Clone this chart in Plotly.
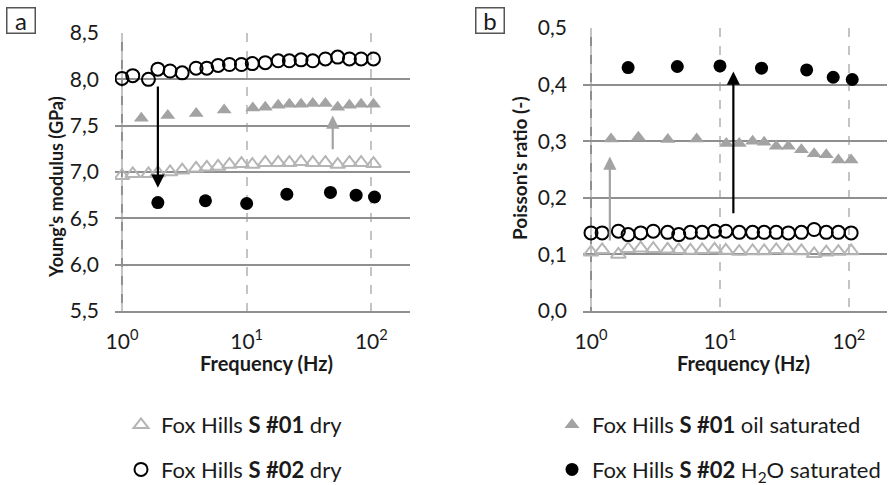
import math
import plotly.graph_objects as go

# ---------------- data ----------------
FREQ_DRY = [1.0, 1.22, 1.63, 1.94, 2.43, 3.04, 3.93, 4.79, 5.9, 7.28, 9.08, 11.1, 14.1,
            17.9, 22.0, 27.3, 33.9, 42.8, 53.7, 66.7, 82.8, 104]
FREQ_OIL = [1.43, 2.33, 3.94, 6.6, 11.2, 14.1, 17.9, 22.0, 27.3, 33.9, 42.8, 53.7, 66.7, 82.8, 104]
FREQ_H2O = [1.94, 4.67, 10.0, 21.0, 47.0, 75.5, 106]

E_S01_DRY = [6.96, 6.98, 6.98, 6.99, 7.00, 7.02, 7.04, 7.05, 7.06, 7.08, 7.09, 7.08, 7.10,
             7.10, 7.10, 7.11, 7.10, 7.10, 7.08, 7.10, 7.10, 7.09]
E_S02_DRY = [8.01, 8.04, 8.00, 8.11, 8.09, 8.07, 8.12, 8.12, 8.15, 8.16, 8.16, 8.17, 8.18,
             8.20, 8.20, 8.21, 8.20, 8.22, 8.24, 8.22, 8.22, 8.22]
E_S01_OIL = [7.58, 7.61, 7.63, 7.67, 7.69, 7.70, 7.72, 7.73, 7.73, 7.74, 7.74, 7.70, 7.72, 7.73, 7.73]
E_S02_H2O = [6.67, 6.69, 6.66, 6.76, 6.78, 6.75, 6.73]

NU_S01_DRY = [0.104, 0.108, 0.100, 0.110, 0.111, 0.110, 0.109, 0.108, 0.107, 0.108, 0.109, 0.107,
              0.105, 0.106, 0.106, 0.108, 0.107, 0.106, 0.101, 0.104, 0.105, 0.106]
NU_S02_DRY = [0.138, 0.138, 0.141, 0.135, 0.138, 0.141, 0.139, 0.135, 0.139, 0.139, 0.141, 0.141,
              0.139, 0.139, 0.139, 0.139, 0.138, 0.139, 0.144, 0.139, 0.139, 0.138]
NU_S01_OIL = [0.304, 0.307, 0.303, 0.304, 0.296, 0.296, 0.300, 0.298, 0.291, 0.291, 0.285, 0.278,
              0.276, 0.267, 0.267]
NU_S02_H2O = [0.430, 0.432, 0.433, 0.429, 0.426, 0.413, 0.409]

X_TICKS = [1, 10, 100]
X_TICKTEXT = ["10<sup>0</sup>", "10<sup>1</sup>", "10<sup>2</sup>"]
E_TICKS = [5.5, 6.0, 6.5, 7.0, 7.5, 8.0, 8.5]
NU_TICKS = [0.0, 0.1, 0.2, 0.3, 0.4, 0.5]

NAMES = ["Fox Hills <b>S #01</b> dry", "Fox Hills <b>S #02</b> dry",
         "Fox Hills <b>S #01</b> oil saturated", "Fox Hills <b>S #02</b> H<sub>2</sub>O saturated"]

FONT = "Lato"
TXT = "#1a1a1a"
GRID = "#8f8f8f"
LIGHT_GRAY = "#b5b5b5"
MID_GRAY = "#a3a3a3"

fig = go.Figure()

styles = [
    dict(symbol="triangle-up-open", size=13, color=LIGHT_GRAY, line=dict(width=2, color=LIGHT_GRAY)),
    dict(symbol="circle-open", size=13, color="black", line=dict(width=2, color="black")),
    dict(symbol="triangle-up", size=13, color=MID_GRAY, line=dict(width=0)),
    dict(symbol="circle", size=13, color="black", line=dict(width=0)),
]
legends = ["legend", "legend", "legend2", "legend2"]

left_sets = [(FREQ_DRY, E_S01_DRY), (FREQ_DRY, E_S02_DRY), (FREQ_OIL, E_S01_OIL), (FREQ_H2O, E_S02_H2O)]
right_sets = [(FREQ_DRY, NU_S01_DRY), (FREQ_DRY, NU_S02_DRY), (FREQ_OIL, NU_S01_OIL), (FREQ_H2O, NU_S02_H2O)]

for i, (fx, fy) in enumerate(left_sets):
    fig.add_trace(go.Scatter(x=fx, y=fy, mode="markers", marker=styles[i], name=NAMES[i],
                             xaxis="x", yaxis="y", legend=legends[i], legendgroup=f"g{i}",
                             showlegend=True))
for i, (fx, fy) in enumerate(right_sets):
    fig.add_trace(go.Scatter(x=fx, y=fy, mode="markers", marker=styles[i], name=NAMES[i],
                             xaxis="x2", yaxis="y2", legend=legends[i], legendgroup=f"g{i}",
                             showlegend=False))

xax_common = dict(type="log", tickvals=X_TICKS, ticktext=X_TICKTEXT, showgrid=True,
                  gridcolor="#c4c4c4", gridwidth=1.5, griddash="dash", zeroline=False,
                  showline=True, linecolor=GRID, linewidth=2, ticks="",
                  tickfont=dict(family=FONT, size=21, color=TXT), ticklabelstandoff=11)
yax_common = dict(showgrid=True, gridcolor=GRID, gridwidth=2, zeroline=False, showline=False,
                  ticks="", tickfont=dict(family=FONT, size=21, color=TXT), ticklabelstandoff=15)

fig.update_layout(
    width=896, height=485, margin=dict(l=0, r=0, t=0, b=0, autoexpand=False),
    paper_bgcolor="white", plot_bgcolor="white",
    xaxis=dict(domain=[115/896, 410/896], range=[-0.056, 2.31], anchor="y", **xax_common),
    yaxis=dict(domain=[1-311/485, 1-33/485], range=[5.5, 8.5], anchor="x", tickvals=E_TICKS,
               ticktext=[f"{v:.1f}".replace(".", ",") for v in E_TICKS], **yax_common),
    xaxis2=dict(domain=[583/896, 887/896], range=[-0.062, 2.295], anchor="y2", **xax_common),
    yaxis2=dict(domain=[1-311/485, 1-28/485], range=[0, 0.5], anchor="x2", tickvals=NU_TICKS,
                ticktext=[f"{v:.1f}".replace(".", ",") for v in NU_TICKS], **yax_common),
    legend=dict(x=121/896, y=1-404/485, xanchor="left", yanchor="top",
                font=dict(family=FONT, size=22, color=TXT), tracegroupgap=13,
                bgcolor="rgba(0,0,0,0)", itemclick=False),
    legend2=dict(x=552/896, y=1-404/485, xanchor="left", yanchor="top",
                 font=dict(family=FONT, size=22, color=TXT), tracegroupgap=13,
                 bgcolor="rgba(0,0,0,0)", itemclick=False),
    showlegend=True,
)

# solid vertical axis line at 10^0
for xr, yr, y0, y1 in [("x", "y", 5.5, 8.5), ("x2", "y2", 0, 0.5)]:
    fig.add_shape(type="line", xref=xr, yref=yr, x0=1, x1=1, y0=y0, y1=y1,
                  line=dict(color=GRID, width=2), layer="below")

# panel labels
for txt, px, py in [("a", 21, 21), ("b", 490, 21)]:
    fig.add_annotation(text=txt, xref="paper", yref="paper", x=px/896, y=1-py/485,
                       showarrow=False, font=dict(family=FONT, size=24, color=TXT),
                       bordercolor="#555", borderwidth=1.5, borderpad=0, xanchor="center",
                       yanchor="middle", width=27, height=24)

# axis titles
fig.add_annotation(text="<b>Young's modulus (GPa)</b>", xref="paper", yref="paper",
                   x=56/896, y=1-187/485, textangle=-90, showarrow=False,
                   font=dict(family=FONT, size=18, color=TXT), xanchor="center", yanchor="middle")
fig.add_annotation(text="<b>Poisson's ratio (-)</b>", xref="paper", yref="paper",
                   x=519/896, y=1-168/485, textangle=-90, showarrow=False,
                   font=dict(family=FONT, size=19, color=TXT), xanchor="center", yanchor="middle")
fig.add_annotation(text="<b>Frequency (Hz)</b>", xref="paper", yref="paper",
                   x=266/896, y=1-363/485, showarrow=False,
                   font=dict(family=FONT, size=20, color=TXT), xanchor="center", yanchor="middle")
fig.add_annotation(text="<b>Frequency (Hz)</b>", xref="paper", yref="paper",
                   x=743/896, y=1-363/485, showarrow=False,
                   font=dict(family=FONT, size=20, color=TXT), xanchor="center", yanchor="middle")

# arrows (x in log10 units for log axes)
ARROWS = [
    ("x", "y", 1.94, 7.94, 6.83, "black"),
    ("x", "y", 49.0, 7.23, 7.61, MID_GRAY),
    ("x2", "y2", 1.40, 0.122, 0.273, MID_GRAY),
    ("x2", "y2", 12.7, 0.170, 0.423, "black"),
]
for xr, yr, f, y_from, y_to, col in ARROWS:
    lx = math.log10(f)
    fig.add_annotation(xref=xr, yref=yr, axref=xr, ayref=yr, x=lx, y=y_to, ax=lx, ay=y_from,
                       text="", showarrow=True, arrowhead=2, arrowsize=1.2, arrowwidth=2.2,
                       arrowcolor=col, standoff=0, startstandoff=0)

fig.write_html("out.html")
